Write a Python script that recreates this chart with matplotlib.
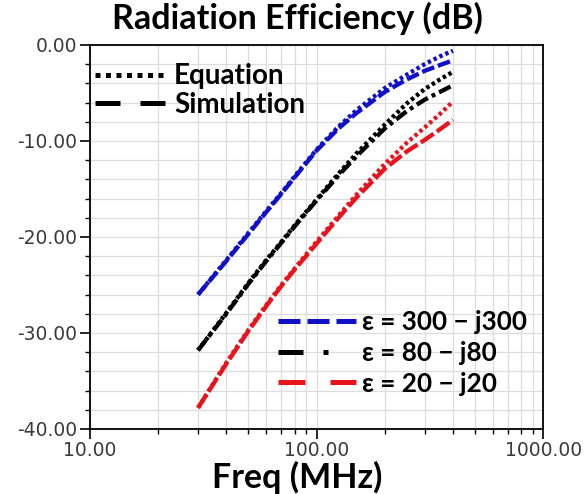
import numpy as np
import matplotlib
matplotlib.use('Agg')
import matplotlib.pyplot as plt
from matplotlib.lines import Line2D
from matplotlib.ticker import FixedLocator, FuncFormatter, MultipleLocator

# frequency samples (MHz)
freq = [30, 40, 50, 60, 70, 80, 100, 125, 150, 200, 250, 300, 350, 400]

# radiation efficiency (dB), closed-form equation
eq_300 = [-26.0, -22.4, -19.6, -17.3, -15.4, -13.7, -10.9, -8.5, -6.8, -4.5, -3.1, -2.0, -1.2, -0.6]
eq_80 = [-31.8, -27.9, -24.8, -22.4, -20.5, -18.8, -16.1, -13.4, -11.3, -8.3, -6.1, -4.6, -3.6, -2.8]
eq_20 = [-37.8, -33.1, -29.7, -27.1, -25.0, -23.3, -20.5, -17.8, -15.6, -12.4, -10.2, -8.6, -7.2, -5.9]

# radiation efficiency (dB), full-wave simulation
sim_300 = [-26.0, -22.5, -19.7, -17.4, -15.5, -13.8, -11.0, -8.7, -7.1, -4.9, -3.6, -2.7, -2.1, -1.6]
sim_80 = [-31.8, -28.0, -24.9, -22.5, -20.6, -18.9, -16.2, -13.6, -11.6, -8.7, -6.9, -5.7, -4.9, -4.2]
sim_20 = [-37.8, -33.2, -29.8, -27.2, -25.1, -23.4, -20.7, -18.0, -15.9, -12.9, -11.1, -9.9, -8.8, -7.8]

eps_labels = ['ε = 300 − j300', 'ε = 80 − j80', 'ε = 20 − j20']
colors = ['#1010c8', '#000000', '#e8141c']

bold_font = ['Lato', 'DejaVu Sans']

fig = plt.figure(figsize=(5.84, 4.94), dpi=100)
fig.patch.set_facecolor('white')
ax = fig.add_axes([0.154, 0.1316, 0.776, 0.7774])

sim_dashes = [(3.0, 0.9), (3.0, 1.0, 0.9, 1.0), (3.6, 0.9)]
for sim, col, d in zip([sim_300, sim_80, sim_20], colors, sim_dashes):
    ax.plot(freq, sim, color=col, lw=3.1, dashes=d, zorder=3)
for eq, col in zip([eq_300, eq_80, eq_20], colors):
    ax.plot(freq, eq, color=col, lw=3.1, dashes=(0.8, 0.7), zorder=4)

ax.set_xscale('log')
ax.set_xlim(10, 1000)
ax.set_ylim(-40, 0)

ax.xaxis.set_major_locator(FixedLocator([10, 100, 1000]))
ax.xaxis.set_minor_locator(FixedLocator([20, 30, 40, 50, 60, 70, 80, 90,
                                         200, 300, 400, 500, 600, 700, 800, 900]))
ax.xaxis.set_major_formatter(FuncFormatter(lambda v, p: f'{v:.2f}'))
ax.yaxis.set_major_locator(MultipleLocator(10))
ax.yaxis.set_minor_locator(MultipleLocator(2))
ax.yaxis.set_major_formatter(FuncFormatter(lambda v, p: f'{abs(v) if v == 0 else v:.2f}'))

ax.grid(True, which='both', color='#dcdcdc', lw=0.9)
ax.set_axisbelow(True)
ax.tick_params(which='major', direction='out', length=7, width=1.2,
               labelsize=13.5, labelcolor='#3a3a3a', pad=2)
ax.tick_params(which='minor', direction='out', length=3.5, width=1.0)
for lab in ax.get_xticklabels() + ax.get_yticklabels():
    lab.set_fontfamily('DejaVu Sans')
for s in ax.spines.values():
    s.set_linewidth(1.3)

fig.text(0.51, 0.962, 'Radiation Efficiency (dB)', ha='center', va='center',
         fontsize=24.5, fontweight='bold', family=bold_font)
fig.text(0.509, 0.033, 'Freq (MHz)', ha='center', va='center',
         fontsize=24.5, fontweight='bold', family=bold_font)

# line-style key
style_handles = [
    Line2D([], [], color='black', lw=3.6, dashes=(1.0, 1.1)),
    Line2D([], [], color='black', lw=3.6, dashes=(5.0, 4.0)),
]
leg1 = ax.legend(style_handles, ['Equation', 'Simulation'], loc='upper left',
                 bbox_to_anchor=(0.011, 0.952), frameon=False, handlelength=2.6,
                 handletextpad=0.25, labelspacing=0.08, borderpad=0, borderaxespad=0,
                 prop={'family': bold_font, 'weight': 'bold', 'size': 20})
ax.add_artist(leg1)

# permittivity key
eps_handles = [
    Line2D([], [], color=colors[0], lw=3.6, dashes=(4.4, 1.4)),
    Line2D([], [], color=colors[1], lw=3.6, dashes=(5.0, 4.0, 1.0, 20)),
    Line2D([], [], color=colors[2], lw=3.6, dashes=(5.4, 5.0)),
]
ax.legend(eps_handles, eps_labels, loc='upper left', bbox_to_anchor=(0.415, 0.31),
          frameon=False, handlelength=3.0, handletextpad=0.22, labelspacing=0.26,
          borderpad=0, borderaxespad=0,
          prop={'family': bold_font, 'weight': 'bold', 'size': 18.8})

fig.savefig('out.png', dpi=100)
